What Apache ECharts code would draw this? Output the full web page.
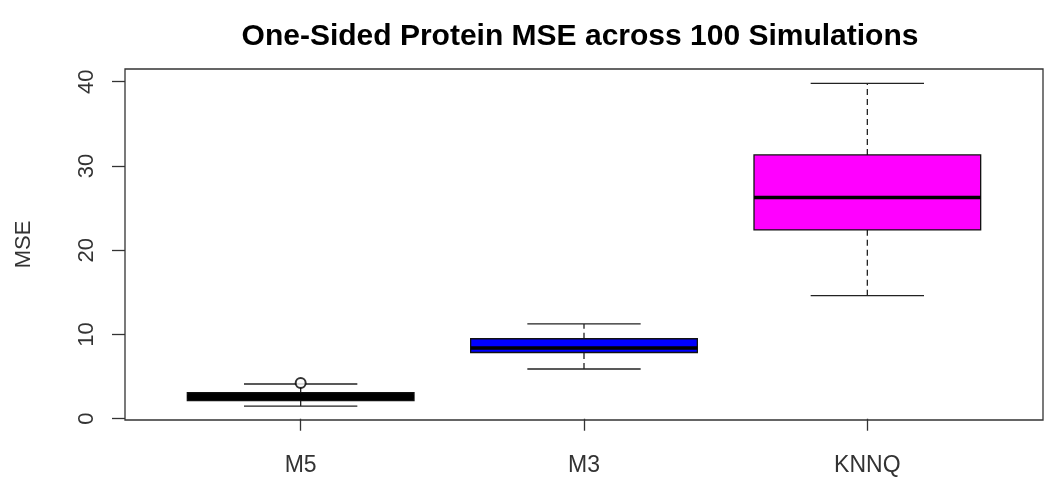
<!DOCTYPE html>
<html>
<head>
<meta charset="utf-8">
<script src="https://cdn.jsdelivr.net/npm/echarts@6/dist/echarts.min.js"></script>
<style>
 html, body { margin: 0; padding: 0; background: #fff; }
 #main { width: 1060px; height: 495px; }
</style>
</head>
<body>
<div id="main"></div>
<script>
 // box statistics
 var categories = ['M5', 'M3', 'KNNQ'];
 var whiskerLow = [1.5, 5.9, 14.6];
 var q1 = [2.14, 7.86, 22.4];
 var medians = [2.6, 8.4, 26.25];
 var q3 = [3.09, 9.49, 31.3];
 var whiskerHigh = [4.12, 11.25, 39.8];
 // [group position, value]
 var outliers = [[1, 4.24]];
 var yTicks = [0, 10, 20, 30, 40];

 var fills = ['#000000', '#0000ff', '#ff00ff'];
 var boxHalf = 0.4, stapleHalf = 0.2;

 var boxData = categories.map(function (c, i) {
     return [i + 1, whiskerLow[i], q1[i], medians[i], q3[i], whiskerHigh[i]];
 });

 function renderBox(params, api) {
     var x = api.value(0);
     var p = function (dx, v) { return api.coord([x + dx, v]); };
     var lo = p(0, api.value(1)), b1 = p(0, api.value(2)), md = api.value(3),
         b3 = p(0, api.value(4)), hi = p(0, api.value(5));
     var l = p(-boxHalf, 0)[0], r = p(boxHalf, 0)[0];
     var sl = p(-stapleHalf, 0)[0], sr = p(stapleHalf, 0)[0];
     var line = { stroke: '#222', lineWidth: 1.3 };
     var dashed = { stroke: '#222', lineWidth: 1.3, lineDash: [6, 4] };
     return {
         type: 'group',
         children: [
             { type: 'line', shape: { x1: lo[0], y1: lo[1], x2: b1[0], y2: b1[1] }, style: dashed },
             { type: 'line', shape: { x1: b3[0], y1: b3[1], x2: hi[0], y2: hi[1] }, style: dashed },
             { type: 'line', shape: { x1: sl, y1: lo[1], x2: sr, y2: lo[1] }, style: line },
             { type: 'line', shape: { x1: sl, y1: hi[1], x2: sr, y2: hi[1] }, style: line },
             { type: 'rect', shape: { x: l, y: b3[1], width: r - l, height: b1[1] - b3[1] },
               style: { fill: fills[params.dataIndex], stroke: '#111', lineWidth: 1.3 } },
             { type: 'line', shape: { x1: l, y1: p(0, md)[1], x2: r, y2: p(0, md)[1] },
               style: { stroke: '#000', lineWidth: 3.5 } }
         ]
     };
 }

 var myChart = echarts.init(document.getElementById('main'));
 var option = {
     backgroundColor: '#fff',
     animation: false,
     title: {
         text: 'One-Sided Protein MSE across 100 Simulations',
         left: 575,
         top: 17,
         textAlign: 'center',
         textStyle: { fontFamily: 'Liberation Sans', fontWeight: 'bold', fontSize: 30, color: '#000' }
     },
     grid: {
         left: 125, top: 69, right: 17, bottom: 75,
         show: true, borderColor: '#333', borderWidth: 1.3
     },
     xAxis: {
         type: 'value',
         min: 0.38, max: 3.62,
         splitLine: { show: false },
         axisLine: { show: false },
         axisTick: { show: true, customValues: [1, 2, 3], length: 12, lineStyle: { color: '#333', width: 1.3 } },
         axisLabel: {
             customValues: [1, 2, 3],
             margin: 34,
             fontFamily: 'Liberation Sans', fontSize: 23, color: '#333',
             formatter: function (v) { return categories[Math.round(v) - 1]; }
         }
     },
     yAxis: {
         type: 'value',
         min: -0.15, max: 41.5,
         name: 'MSE',
         nameLocation: 'middle',
         nameRotate: 90,
         nameGap: 90,
         nameTextStyle: { fontFamily: 'Liberation Sans', fontSize: 22, color: '#333' },
         splitLine: { show: false },
         axisLine: { show: false },
         axisTick: { show: true, customValues: yTicks, length: 13, lineStyle: { color: '#333', width: 1.3 } },
         axisLabel: {
             customValues: yTicks,
             rotate: 90,
             margin: 27,
             fontFamily: 'Liberation Sans', fontSize: 22, color: '#333'
         }
     },
     series: [
         {
             type: 'custom',
             renderItem: renderBox,
             data: boxData,
             z: 2
         },
         {
             type: 'scatter',
             data: outliers,
             symbol: 'emptyCircle',
             symbolSize: 10,
             itemStyle: { color: '#000', borderWidth: 1.5 },
             z: 3
         }
     ]
 };
 myChart.setOption(option);
</script>
</body>
</html>
